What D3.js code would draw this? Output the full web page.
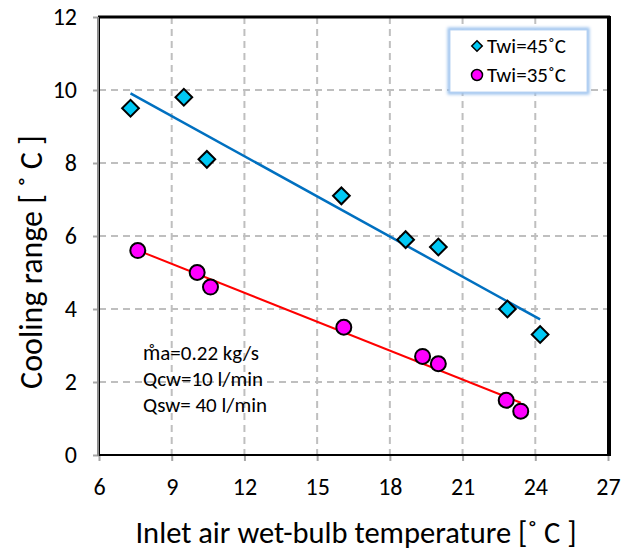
<!DOCTYPE html>
<html>
<head>
<meta charset="utf-8">
<script src="https://cdn.jsdelivr.net/npm/d3@7"></script>
<style>
  html, body { margin: 0; padding: 0; background: #fff; }
  svg { display: block; }
  text { font-family: Carlito, Calibri, Lato, sans-serif; fill: #000; }
  .tick text { font-size: 24px; }
</style>
</head>
<body>
<svg id="chart" width="632" height="554"></svg>
<script>
// ---- data ----
const xTicks = [6, 9, 12, 15, 18, 21, 24, 27];
const yTicks = [0, 2, 4, 6, 8, 10, 12];

const twi45X = [7.3, 9.5, 10.45, 16.0, 18.65, 20.0, 22.85, 24.2];
const twi45Y = [9.5, 9.8, 8.1, 7.1, 5.9, 5.7, 4.0, 3.3];

const twi35X = [7.6, 10.05, 10.6, 16.1, 19.35, 20.0, 22.8, 23.4];
const twi35Y = [5.6, 5.0, 4.6, 3.5, 2.7, 2.5, 1.5, 1.2];

const seriesNames = ["Twi=45\u02DAC", "Twi=35\u02DAC"];
const noteLines = ["m\u030Aa=0.22 kg/s", "Qcw=10 l/min", "Qsw= 40 l/min"];
const xTitle = "Inlet air wet-bulb  temperature [\u02DA C ]";
const yTitle = "Cooling range [ \u02DA C ]";

// ---- layout ----
const svg = d3.select("#chart");
const L = 99, R = 608, T = 17, B = 455;
const x = d3.scaleLinear().domain([6, 27]).range([L, R]);
const y = d3.scaleLinear().domain([0, 12]).range([B, T]);

// gridlines
const grid = svg.append("g");
grid.selectAll("line.v").data(xTicks.slice(1, -1)).join("line")
  .attr("x1", d => x(d)).attr("x2", d => x(d)).attr("y1", T).attr("y2", B)
  .attr("stroke", "#bfbfbf").attr("stroke-width", 2).attr("stroke-dasharray", "7,5");
grid.selectAll("line.h").data(yTicks.slice(1, -1)).join("line")
  .attr("x1", L).attr("x2", R).attr("y1", d => y(d)).attr("y2", d => y(d))
  .attr("stroke", "#bfbfbf").attr("stroke-width", 2).attr("stroke-dasharray", "7,5");

// axes
const xAxis = svg.append("g").attr("transform", `translate(0,${B})`)
  .call(d3.axisBottom(x).tickValues(xTicks).tickSize(6).tickPadding(17).tickFormat(d3.format("d")));
const yAxis = svg.append("g").attr("transform", `translate(${L},0)`)
  .call(d3.axisLeft(y).tickValues(yTicks).tickSize(6).tickPadding(16).tickFormat(d3.format("d")));
[xAxis, yAxis].forEach(g => {
  g.attr("font-size", 24).attr("font-family", null);
  g.select(".domain").remove();
  g.selectAll(".tick line").attr("stroke", "#a6a6a6").attr("stroke-width", 2);
  g.selectAll(".tick text").attr("font-size", 24).style("font-size", "24px").attr("fill", "#000");
});

// frame
svg.append("rect").attr("x", L).attr("y", T).attr("width", R - L).attr("height", B - T)
  .attr("fill", "none").attr("stroke", "#000").attr("stroke-width", 2);
svg.append("line").attr("x1", L - 1).attr("x2", R + 2).attr("y1", T).attr("y2", T)
  .attr("stroke", "#000").attr("stroke-width", 3);
svg.append("line").attr("x1", R + 1).attr("x2", R + 1).attr("y1", T - 1).attr("y2", B + 1)
  .attr("stroke", "#000").attr("stroke-width", 4);
svg.append("line").attr("x1", L - 1).attr("x2", L - 1).attr("y1", T).attr("y2", B + 1)
  .attr("stroke", "#8c8c8c").attr("stroke-width", 2);

// trend lines (least squares, as in the original trendline)
function fit(xs, ys) {
  const mx = d3.mean(xs), my = d3.mean(ys);
  let sxy = 0, sxx = 0;
  xs.forEach((v, i) => { sxy += (v - mx) * (ys[i] - my); sxx += (v - mx) * (v - mx); });
  const b = sxy / sxx, a = my - b * mx;
  const x0 = d3.min(xs), x1 = d3.max(xs);
  return [[x0, a + b * x0], [x1, a + b * x1]];
}
const lineGen = d3.line().x(d => x(d[0])).y(d => y(d[1]));
svg.append("path").attr("d", lineGen(fit(twi45X, twi45Y)))
  .attr("fill", "none").attr("stroke", "#0070c0").attr("stroke-width", 2.5);
svg.append("path").attr("d", lineGen(fit(twi35X, twi35Y)))
  .attr("fill", "none").attr("stroke", "#ff0000").attr("stroke-width", 2);

// markers
const diamond = d3.symbol().type(d3.symbolSquare).size(140);
svg.append("g").selectAll("path").data(twi45X.map((v, i) => [v, twi45Y[i]])).join("path")
  .attr("d", diamond())
  .attr("transform", d => `translate(${x(d[0])},${y(d[1])}) rotate(45)`)
  .attr("fill", "#00c8f4").attr("stroke", "#000").attr("stroke-width", 2);
svg.append("g").selectAll("circle").data(twi35X.map((v, i) => [v, twi35Y[i]])).join("circle")
  .attr("cx", d => x(d[0])).attr("cy", d => y(d[1])).attr("r", 7.5)
  .attr("fill", "#ff00ff").attr("stroke", "#000").attr("stroke-width", 2);

// legend
const defs = svg.append("defs");
const f = defs.append("filter").attr("id", "glow").attr("x", "-20%").attr("y", "-20%").attr("width", "140%").attr("height", "140%");
f.append("feGaussianBlur").attr("stdDeviation", 1.5);
const lg = svg.append("g");
lg.append("rect").attr("x", 450).attr("y", 30).attr("width", 137).attr("height", 62)
  .attr("fill", "none").attr("stroke", "#9cc2ee").attr("stroke-width", 5).attr("filter", "url(#glow)");
lg.append("rect").attr("x", 450).attr("y", 30).attr("width", 137).attr("height", 62)
  .attr("fill", "#fff").attr("stroke", "#bcd5f3").attr("stroke-width", 1);
const legY = [46, 75];
lg.append("path").attr("d", d3.symbol().type(d3.symbolSquare).size(55)())
  .attr("transform", `translate(477,${legY[0]}) rotate(45)`)
  .attr("fill", "#00c8f4").attr("stroke", "#000").attr("stroke-width", 1.5);
lg.append("circle").attr("cx", 477).attr("cy", legY[1]).attr("r", 5.5)
  .attr("fill", "#ff00ff").attr("stroke", "#000").attr("stroke-width", 1.5);
lg.selectAll("text").data(seriesNames).join("text")
  .attr("x", 487).attr("y", (d, i) => legY[i]).attr("dy", "0.35em")
  .style("font-size", "21px").text(d => d);

// annotation
svg.append("g").selectAll("text").data(noteLines).join("text")
  .attr("x", 143).attr("y", (d, i) => 360 + i * 26)
  .style("font-size", "21px").text(d => d);

// axis titles
svg.append("text").attr("x", 356).attr("y", 543).attr("text-anchor", "middle")
  .style("font-size", "30.5px").text(xTitle);
svg.append("text").attr("transform", `translate(31,262) rotate(-90)`)
  .attr("text-anchor", "middle").attr("dy", "0.35em")
  .style("font-size", "32px").text(yTitle);
</script>
</body>
</html>
